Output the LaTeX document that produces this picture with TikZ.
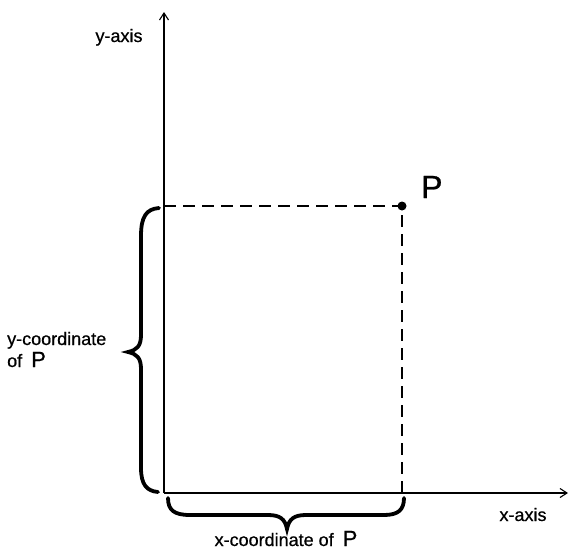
\documentclass[tikz,border=0pt]{standalone}
\usepackage{fontspec}
\setmainfont{Liberation Sans}[FakeBold=0.7]
\usetikzlibrary{arrows.meta}
\begin{document}
\begin{tikzpicture}[x=1pt,y=-1pt,
  axis/.style={line width=1.1pt,-{Straight Barb[length=7pt,width=9pt,line width=1.1pt]}},
  dashline/.style={line width=1.2pt,dash pattern=on 12pt off 7pt},
  bracepath/.style={line width=3.8pt,line cap=round},
  lbl/.style={font=\fontsize{18}{21}\selectfont,inner sep=0pt},
  bigp/.style={font=\fontsize{32}{36}\selectfont,inner sep=0pt}]
\useasboundingbox (0,0) rectangle (570,552);
\coordinate (O) at (164,493);
\coordinate (ytop) at (164,12);
\coordinate (xend) at (568,493);
\coordinate (ymark) at (164,206);
\coordinate (xmark) at (402,493);
\node[circle,fill,inner sep=0pt,minimum size=9pt] (P) at (402,206) {};
\draw[axis] (O) -- (ytop);
\draw[axis] (O) -- (xend);
\draw[dashline] (ymark) -- (P.center) -- (xmark);
% left brace
\draw[bracepath] (159,208) .. controls (146,209) and (141,217) .. (141,236) -- (141,335)
  .. controls (141,346) and (137,350) .. (128,352)
  .. controls (137,354) and (141,358) .. (141,369) -- (141,468)
  .. controls (141,485) and (147,491) .. (158,492);
% bottom brace
\draw[bracepath] (168,498) .. controls (168,510) and (174,515) .. (190,515) -- (268,515)
  .. controls (280,515) and (285,519) .. (287,529)
  .. controls (289,519) and (294,515) .. (306,515) -- (384,515)
  .. controls (398,515) and (404,510) .. (404,498);
\node[lbl,anchor=base] (ylab) at (119,42) {y-axis};
\node[lbl,anchor=base] (xlab) at (523,521) {x-axis};
\node[bigp,anchor=base west] (plab) at (421,198) {P};
\node[lbl,anchor=base west] (ycoord) at (7,345) {y-coordinate};
\node[lbl,anchor=base west] (yof) at (7,367) {of\hspace{0.5em}{\fontsize{22}{24}\selectfont P}};
\node[lbl,anchor=base] (xcoord) at (286,546) {x-coordinate of\hspace{0.5em}{\fontsize{22}{24}\selectfont P}};
\end{tikzpicture}
\end{document}
